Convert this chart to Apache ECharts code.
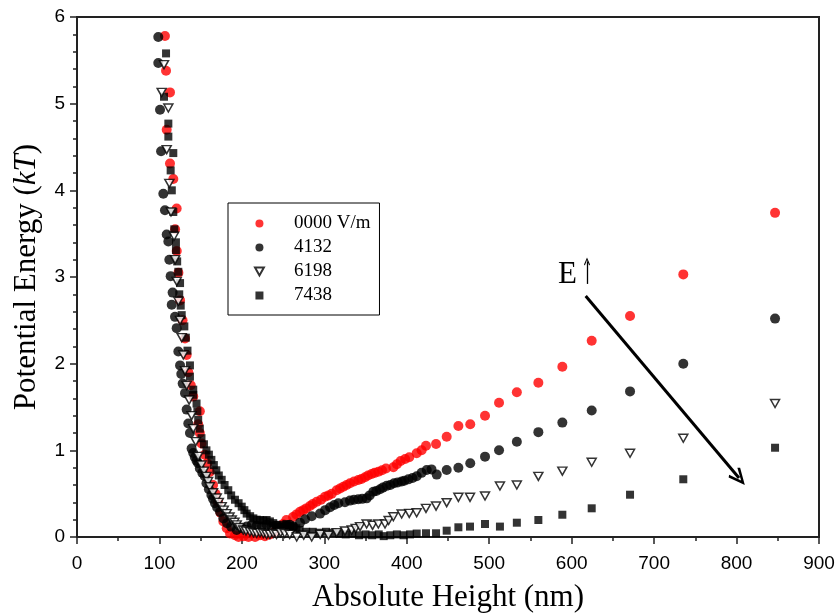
<!DOCTYPE html>
<html>
<head>
<meta charset="utf-8">
<script src="https://cdn.jsdelivr.net/npm/echarts@6/dist/echarts.min.js"></script>
<style>html,body{margin:0;padding:0;background:#fff}#c{width:838px;height:614px}</style>
</head>
<body>
<div id="c"></div>
<script>
// ---- data ----
const seriesNames = ['0000 V/m', '4132', '6198', '7438'];

const red_x = [106.7,108,112.8,108.8,112.8,116.8,120.9,119,121,123,125,128,131,133,135,138,141,149,147,149,151,155,158,161,165,168,171,174,177.5,181.6,185.6,191.6,196,202,208,216,222,228,234,240,246,250,254,262,266,270.5,274.5,278,282.6,286,290.8,296,300.8,305,309,315,319,323,327,331.1,336,341.2,345,349.3,353,357.4,361,365.5,370,374.8,383.7,388,392.6,398,403,412,418,423.3,435.5,448.4,462.6,477,494.9,511.9,533.5,559.6,588.7,624.3,670.8,735.4,846.7];
const red_y = [5.78,5.38,5.13,4.70,4.31,4.13,3.79,3.55,3.3,3.05,2.73,2.5,2.29,2.1,1.9,1.75,1.62,1.45,1.3,1.2,1.08,0.95,0.85,0.75,0.6,0.5,0.4,0.28,0.18,0.10,0.04,0.02,0.0,0.01,0.0,0.0,0.02,0.01,0.03,0.06,0.1,0.15,0.196,0.23,0.26,0.29,0.31,0.33,0.357,0.38,0.407,0.43,0.465,0.48,0.50,0.54,0.56,0.58,0.60,0.62,0.64,0.658,0.67,0.689,0.71,0.727,0.74,0.753,0.77,0.79,0.804,0.84,0.877,0.9,0.92,0.966,1.0,1.053,1.073,1.157,1.28,1.30,1.40,1.55,1.67,1.78,1.965,2.265,2.55,3.03,3.74];

const c4132_x = [98.6,98.6,100.7,102,104.7,106.7,108.8,110.8,112,113.6,114.9,116,118.9,120.9,122.9,125,126.5,128.2,131,133,135,137,139,141,143,145,147,149,152,155,157,160,163,165,167.4,170,173.5,177.5,182,187,193.7,200,206,212,218,224,230,236,242,248,254,258,262.4,270.5,276.6,284.7,294.8,301,307,312,317,325,331.1,336,341.2,346,351.3,355,359.4,363,367.5,371,375.6,380,384.5,389,393.8,397,401.9,407,412,418,424.2,430,436.3,448.4,462.6,477,494.9,511.9,533.5,559.6,588.7,624.3,670.8,735.4,846.7];
const c4132_y = [5.77,5.47,4.93,4.45,3.96,3.77,3.49,3.41,3.20,3.01,2.68,2.82,2.54,2.41,2.14,1.98,1.88,1.77,1.66,1.47,1.31,1.20,1.02,0.97,0.92,0.88,0.85,0.79,0.74,0.70,0.62,0.55,0.485,0.44,0.39,0.34,0.29,0.215,0.16,0.12,0.08,0.1,0.12,0.14,0.13,0.12,0.14,0.12,0.13,0.11,0.12,0.14,0.12,0.165,0.204,0.24,0.27,0.31,0.343,0.37,0.39,0.40,0.42,0.43,0.435,0.44,0.446,0.48,0.523,0.53,0.55,0.57,0.59,0.60,0.62,0.63,0.64,0.65,0.665,0.68,0.70,0.74,0.773,0.78,0.72,0.773,0.80,0.85,0.927,1.00,1.10,1.21,1.32,1.46,1.68,2.00,2.52];

const t6198_x = [105.5,102.7,110.8,108.8,112,114,117.7,119,121,123,125,127,129,131,133,136,139,141,144,147,151,154,157,159,161,165,169.5,172,175.5,178,181.6,185,187.7,191,193.7,197,201.7,205,209.8,214,218,222,226,230,234,238,242,247,252,258,266.5,275,284.7,295,305,315,325,333.2,338,343.3,351.3,358.5,365.5,373.6,378,383.7,393.8,403,412,423.3,435.5,448.4,462.6,476.7,494.9,513,533.5,559.6,588.7,624.3,670.8,735.4,846.7];
const t6198_y = [5.45,5.13,4.95,4.47,4.08,3.75,3.47,3.2,2.95,2.72,2.5,2.3,2.1,1.92,1.75,1.58,1.4,1.25,1.1,0.93,0.83,0.76,0.70,0.64,0.58,0.51,0.45,0.40,0.35,0.31,0.27,0.23,0.196,0.17,0.14,0.11,0.08,0.07,0.06,0.05,0.043,0.05,0.04,0.03,0.03,0.04,0.03,0.05,0.04,0.03,0.0,0.02,0.0,0.03,0.02,0.05,0.07,0.08,0.1,0.12,0.15,0.135,0.15,0.15,0.19,0.234,0.265,0.273,0.28,0.33,0.357,0.396,0.458,0.458,0.473,0.588,0.60,0.70,0.76,0.862,0.966,1.14,1.54];

const s7438_x = [108,105.5,110.8,110.8,116.8,113.6,115,116.8,118,120,120,121.5,122.9,125,125.8,124,127,130.2,132,134,137,137,141,141,145,146,147,149,151,154,157,160,163,166,169,172,175.5,179,183.5,187,191.6,196,199.8,203,205.8,210,213.9,218,222,226,230,234,238,242,246,250,254,258,262,266,270,278,286,294,302,310,318,326,334,342,350,358,366,372,380,388,396,404,412,423.3,435.5,448.4,462.6,476.7,494.9,513,533.5,559.6,588.7,624.3,670.8,735.4,846.7];
const s7438_y = [5.58,5.08,4.77,4.62,4.43,4.23,4.0,3.75,3.55,3.40,3.31,3.18,3.06,2.93,2.67,2.8,2.56,2.43,2.3,2.15,1.98,1.85,1.70,1.64,1.54,1.45,1.35,1.25,1.14,1.07,1.00,0.95,0.89,0.83,0.77,0.71,0.66,0.6,0.54,0.48,0.43,0.39,0.35,0.31,0.27,0.24,0.215,0.2,0.196,0.19,0.196,0.18,0.16,0.14,0.12,0.14,0.15,0.13,0.12,0.1,0.08,0.06,0.06,0.05,0.06,0.05,0.04,0.03,0.04,0.02,0.03,0.02,0.03,0.01,0.02,0.03,0.02,0.03,0.04,0.043,0.043,0.073,0.112,0.12,0.15,0.12,0.165,0.196,0.257,0.331,0.488,0.666,1.03];

// annotation arrows (data coordinates)
const arrowStart = [617, 2.78];
const arrowEnd = [803, 0.68];
const eArrowStart = [618.6, 2.92];
const eArrowEnd = [618.6, 3.18];

const xTicks = {min: 0, max: 900, interval: 100};
const yTicks = {min: 0, max: 6, interval: 1};

// ---- chart ----
const pair = (xs, ys) => xs.map((x, i) => [x, ys[i]]);
const serif = 'Liberation Serif, Times New Roman, serif';
const sans = 'Liberation Sans, Arial, sans-serif';
const downTri = 'path://M0,0 L10,0 L5,9 Z';
const square = 'path://M0,0 L10,0 L10,10 L0,10 Z';
const chevron = 'path://M5,0 L10,9 L8.6,10 L5,3.2 L1.4,10 L0,9 Z';

const chart = echarts.init(document.getElementById('c'), null, {renderer: 'canvas'});
chart.setOption({
  animation: false,
  backgroundColor: '#fff',
  grid: {left: 77, right: 19, top: 17, bottom: 77, containLabel: false, outerBoundsMode: 'none',
         show: true, borderColor: '#222', borderWidth: 2, backgroundColor: 'transparent'},
  xAxis: {
    type: 'value', min: xTicks.min, max: xTicks.max, interval: xTicks.interval,
    name: 'Absolute Height (nm)', nameLocation: 'middle', nameGap: 45,
    nameTextStyle: {fontFamily: serif, fontSize: 31, color: '#000'},
    axisLine: {lineStyle: {color: '#222', width: 2}},
    axisTick: {length: 7, lineStyle: {color: '#222', width: 1.5}},
    minorTick: {show: true, splitNumber: 2, length: 4, lineStyle: {color: '#222', width: 1.5}},
    axisLabel: {fontFamily: sans, fontSize: 19, color: '#000', margin: 17},
    splitLine: {show: false}
  },
  yAxis: {
    type: 'value', min: yTicks.min, max: yTicks.max, interval: yTicks.interval,
    name: 'Potential Energy ({i|kT})', nameLocation: 'middle', nameGap: 35,
    nameTextStyle: {fontFamily: serif, fontSize: 31, color: '#000',
      rich: {i: {fontFamily: serif, fontSize: 31, fontStyle: 'italic', color: '#000'}}},
    axisLine: {lineStyle: {color: '#222', width: 2}},
    axisTick: {length: 7, lineStyle: {color: '#222', width: 1.5}},
    minorTick: {show: true, splitNumber: 5, length: 4, lineStyle: {color: '#222', width: 1.5}},
    axisLabel: {fontFamily: sans, fontSize: 19, color: '#000', margin: 12},
    splitLine: {show: false}
  },
  legend: {
    orient: 'vertical', left: 228, top: 203,
    data: [
      {name: seriesNames[0], icon: 'circle'},
      {name: seriesNames[1], icon: 'circle'},
      {name: seriesNames[2], icon: downTri},
      {name: seriesNames[3], icon: square}
    ],
    itemWidth: 9, itemHeight: 8, itemGap: 5,
    padding: [11, 9, 10, 26],
    borderColor: '#000', borderWidth: 1, backgroundColor: '#fff',
    formatter: name => '{s|}' + name,
    textStyle: {fontFamily: serif, fontSize: 19, color: '#000',
      rich: {s: {width: 25}}},
    selectedMode: false
  },
  series: [
    {
      name: seriesNames[0], type: 'scatter', data: pair(red_x, red_y),
      symbol: 'circle', symbolSize: 10, itemStyle: {color: '#ff0000'},
      markLine: {
        silent: true, animation: false,
        label: {show: false},
        lineStyle: {color: '#000', width: 3, type: 'solid'},
        symbol: ['none', chevron], symbolSize: [15, 18],
        data: [[{coord: arrowStart}, {coord: arrowEnd}]]
      }
    },
    {
      name: seriesNames[1], type: 'scatter', data: pair(c4132_x, c4132_y),
      symbol: 'circle', symbolSize: 10, itemStyle: {color: '#000'},
      markLine: {
        silent: true, animation: false,
        label: {show: false},
        lineStyle: {color: '#000', width: 1.3, type: 'solid'},
        symbol: ['none', chevron], symbolSize: [6, 8],
        data: [[{coord: eArrowStart}, {coord: eArrowEnd}]]
      }
    },
    {
      name: seriesNames[3], type: 'scatter', data: pair(s7438_x, s7438_y),
      symbol: 'rect', symbolSize: 8, itemStyle: {color: '#000'}
    },
    {
      name: seriesNames[2], type: 'scatter', data: pair(t6198_x, t6198_y),
      symbol: downTri, symbolSize: [9, 8],
      itemStyle: {color: '#fff', borderColor: '#000', borderWidth: 1.5}
    }
  ],
  graphic: [
    {type: 'text', left: 558, top: 259,
     style: {text: 'E', fontFamily: serif, fontSize: 31, fill: '#000'}}
  ]
});
</script>
</body>
</html>
